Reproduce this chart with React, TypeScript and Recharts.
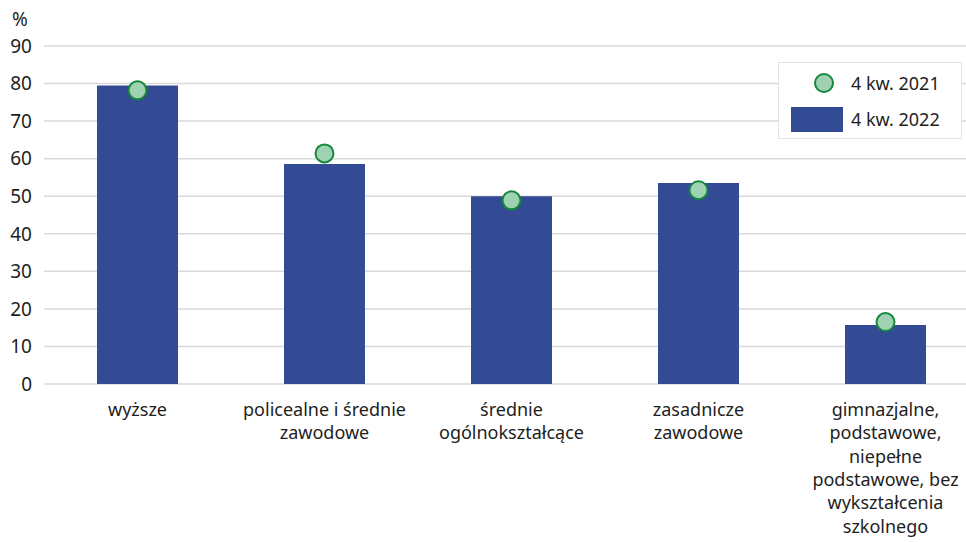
import { ComposedChart, Bar, Line, XAxis, YAxis, CartesianGrid } from "recharts";

const categories = [
  "wyższe",
  "policealne i średnie\nzawodowe",
  "średnie\nogólnokształcące",
  "zasadnicze\nzawodowe",
  "gimnazjalne,\npodstawowe,\nniepełne\npodstawowe, bez\nwykształcenia\nszkolnego",
];
const values2022 = [79.5, 58.6, 50.0, 53.5, 15.7];
const values2021 = [78.2, 61.4, 48.9, 51.6, 16.5];
const yTicks = [0, 10, 20, 30, 40, 50, 60, 70, 80, 90];

const data = categories.map((name, i) => ({
  name,
  y2022: values2022[i],
  y2021: values2021[i],
}));

const FONT = "'Noto Sans', sans-serif";
const TEXT = "#1e1e1e";
const BAR = "#334a94";
const DOT_FILL = "#9fd2b2";
const DOT_STROKE = "#16883c";

function CategoryTick(props: any) {
  const { x, y, payload } = props;
  const lines = String(payload.value).split("\n");
  return (
    <text x={x} y={y} textAnchor="middle" fill={TEXT} fontSize={18} fontFamily={FONT}>
      {lines.map((l, i) => (
        <tspan key={i} x={x} dy={i === 0 ? 24 : 23.3}>
          {l}
        </tspan>
      ))}
    </text>
  );
}

function LegendBox() {
  return (
    <div
      style={{
        position: "absolute",
        left: 778,
        top: 62,
        width: 184,
        height: 77,
        border: "1px solid #e4e4e4",
        background: "#fff",
        boxSizing: "border-box",
      }}
    >
      <svg width={184} height={77} style={{ position: "absolute", left: 0, top: 0 }}>
        <circle cx={45} cy={20} r={9} fill={DOT_FILL} stroke={DOT_STROKE} strokeWidth={2} />
        <rect x={12} y={44} width={52} height={25} fill={BAR} />
        <text x={72} y={27} fontSize={18} fontFamily={FONT} fill={TEXT}>4 kw. 2021</text>
        <text x={72} y={63} fontSize={18} fontFamily={FONT} fill={TEXT}>4 kw. 2022</text>
      </svg>
    </div>
  );
}

export default function App() {
  return (
    <div style={{ position: "absolute", left: 0, top: 0, width: 966, height: 542, overflow: "hidden", background: "#fff" }}>
      <div style={{ position: "absolute", left: 12, top: 6, fontFamily: FONT, fontSize: 19, color: TEXT }}>%</div>
      <ComposedChart
        width={979}
        height={542}
        data={data}
        margin={{ top: 46, right: 0, left: 0, bottom: 0 }}
      >
        <CartesianGrid vertical={false} stroke="#d9d9d9" strokeWidth={1.5} />
        <XAxis
          dataKey="name"
          axisLine={false}
          tickLine={false}
          height={158}
          interval={0}
          tick={<CategoryTick />}
        />
        <YAxis
          domain={[0, 90]}
          ticks={yTicks}
          width={44}
          axisLine={false}
          tickLine={false}
          tickMargin={6}
          tick={{ fill: TEXT, fontSize: 19, fontFamily: FONT }}
        />
        <Bar dataKey="y2022" name="4 kw. 2022" fill={BAR} barSize={81} isAnimationActive={false} />
        <Line
          dataKey="y2021"
          name="4 kw. 2021"
          stroke="none"
          dot={{ r: 9, fill: DOT_FILL, stroke: DOT_STROKE, strokeWidth: 2 }}
          activeDot={false}
          isAnimationActive={false}
        />
      </ComposedChart>
      <LegendBox />
    </div>
  );
}
